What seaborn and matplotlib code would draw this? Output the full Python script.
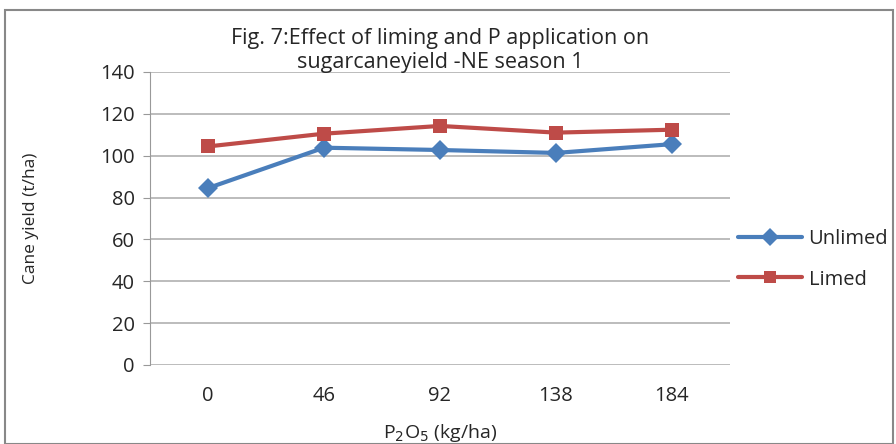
import matplotlib.pyplot as plt
import seaborn as sns
import pandas as pd
from matplotlib.patches import Rectangle

sns.set_style("white")
plt.rcParams['font.family'] = ['Open Sans', 'DejaVu Sans']

# DATA HERE
p_rates = ["0", "46", "92", "138", "184"]
unlimed = [84.5, 103.8, 102.7, 101.3, 105.5]
limed = [104.4, 110.5, 114.2, 111.0, 112.4]

df = pd.DataFrame({
    "rate": p_rates * 2,
    "yield": unlimed + limed,
    "treatment": ["Unlimed"] * len(p_rates) + ["Limed"] * len(p_rates),
})

fig = plt.figure(figsize=(8.96, 4.44), dpi=100)
ax = fig.add_axes([0.1674, 0.178, 0.6473, 0.66])

sns.lineplot(data=df, x="rate", y="yield", hue="treatment", style="treatment",
             palette={"Unlimed": "#4a7ebb", "Limed": "#be4b48"},
             markers={"Unlimed": "D", "Limed": "s"}, dashes=False,
             markersize=10, markeredgewidth=0, linewidth=3, ax=ax)

ax.set_xlim(-0.5, 4.5)
ax.set_ylim(0, 140)
ax.set_yticks(range(0, 141, 20))
ax.grid(axis='y', color='#b0b0b0', linewidth=1.2)
ax.set_axisbelow(True)
for s in ['top', 'right', 'bottom']:
    ax.spines[s].set_visible(False)
ax.spines['left'].set_color('#999999')
ax.tick_params(axis='y', left=True, length=5, color='#999999', labelsize=14.5, pad=6)
ax.tick_params(axis='x', bottom=False, labelsize=14.5, pad=12)

ax.set_xlabel("P$_2$O$_5$ (kg/ha)", fontsize=14, labelpad=11)
ax.set_ylabel("Cane yield (t/ha)", fontsize=12.5, labelpad=44)
ax.set_title("Fig. 7:Effect of liming and P application on\nsugarcaneyield -NE season 1",
             fontsize=15.5, pad=3, linespacing=1.2)

ax.legend(title=None, loc='center left', bbox_to_anchor=(1.0, 0.36), frameon=False,
          fontsize=14.5, handlelength=3.2, labelspacing=1.0, borderaxespad=0.0,
          handletextpad=0.3, markerscale=0.9)

# outer frame of the chart area
fig.patches.append(Rectangle((5 / 896, 0), 888 / 896, 434 / 444, transform=fig.transFigure,
                             fill=False, edgecolor='#888888', linewidth=1.5))

fig.savefig("out.png", dpi=100)
